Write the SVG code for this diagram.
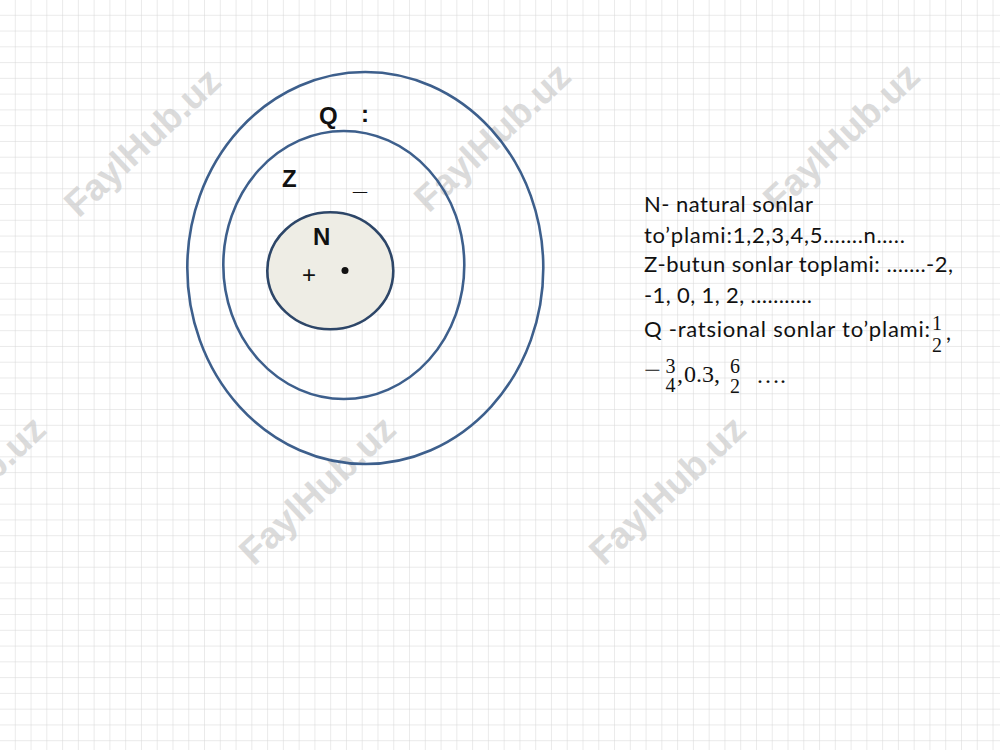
<svg xmlns="http://www.w3.org/2000/svg" width="1000" height="750" viewBox="0 0 1000 750">
<defs>
<pattern id="grid" width="15.77" height="15.77" patternUnits="userSpaceOnUse">
<path d="M15.77 0V15.77M0 15.77H15.77" fill="none" stroke="#d6d6d6" stroke-width="1"/>
</pattern>
</defs>
<style>
.ring{fill:none;stroke:#3d5f8c;stroke-width:2.6}
.lbl{font-family:"Liberation Sans",Arial,sans-serif;font-weight:bold;font-size:24px;fill:#111}
.sym{font-family:"Liberation Sans",Arial,sans-serif;font-size:24px;fill:#111}
.txt{font-family:Lato,"Open Sans",sans-serif;font-size:22px;fill:#111}
.mth{font-family:"Liberation Serif","DejaVu Serif",serif;font-size:24px;fill:#111}
.frac{font-family:"Liberation Serif","DejaVu Serif",serif;font-size:20px;fill:#111;text-anchor:middle}
.wm{font-family:"Liberation Sans",Arial,sans-serif;font-weight:bold;font-size:37px;fill:#cfcfcf;opacity:0.75;text-anchor:middle}
</style>
<rect width="1000" height="750" fill="#ffffff"/>
<rect width="1000" height="750" fill="url(#grid)"/>
<g id="watermarks">
<text class="wm" transform="translate(142,142) rotate(-43)" dy="13">FaylHub.uz</text>
<text class="wm" transform="translate(492,137) rotate(-43)" dy="13">FaylHub.uz</text>
<text class="wm" transform="translate(841,137) rotate(-43)" dy="13">FaylHub.uz</text>
<text class="wm" transform="translate(-33,490) rotate(-43)" dy="13">FaylHub.uz</text>
<text class="wm" transform="translate(317,490) rotate(-43)" dy="13">FaylHub.uz</text>
<text class="wm" transform="translate(667,490) rotate(-43)" dy="13">FaylHub.uz</text>
</g>
<g id="Q">
<ellipse class="ring" cx="365.3" cy="268" rx="178" ry="196"/>
<text class="lbl" x="319" y="124">Q</text>
<text class="lbl" x="361" y="122">:</text>
</g>
<g id="Z">
<ellipse class="ring" cx="343.8" cy="265" rx="120.5" ry="134"/>
<text class="lbl" x="282" y="187">Z</text>
<text class="lbl" x="353" y="190" textLength="14" lengthAdjust="spacingAndGlyphs">_</text>
</g>
<g id="N">
<ellipse cx="330.3" cy="270.8" rx="63" ry="58.5" fill="#eeede5" stroke="#2d4668" stroke-width="2.6"/>
<text class="lbl" x="313" y="245">N</text>
<text class="sym" x="302" y="283">+</text>
<circle cx="345" cy="270.5" r="3.5" fill="#111"/>
</g>
<g id="legend">
<text class="txt" x="644" y="212" textLength="169">N- natural sonlar</text>
<text class="txt" x="644" y="243" textLength="261">to’plami:1,2,3,4,5…….n…..</text>
<text class="txt" x="644" y="272" textLength="309">Z-butun sonlar toplami: …….-2,</text>
<text class="txt" x="644" y="303" textLength="168">-1, 0, 1, 2, ………..</text>
<text class="txt" x="644" y="337" textLength="286">Q -ratsional sonlar to’plami:</text>
<text class="frac" x="937" y="330">1</text>
<text class="frac" x="937" y="352">2</text>
<text class="txt" x="946" y="340">,</text>
<text class="mth" x="644" y="378" textLength="17" lengthAdjust="spacingAndGlyphs">−</text>
<text class="frac" x="670.5" y="373">3</text>
<text class="frac" x="670.5" y="392">4</text>
<text class="mth" x="677" y="382">,</text>
<text class="mth" x="684" y="382">0.3,</text>
<text class="frac" x="735" y="373">6</text>
<text class="frac" x="735" y="393">2</text>
<text class="mth" x="756" y="383">….</text>
</g>
</svg>
